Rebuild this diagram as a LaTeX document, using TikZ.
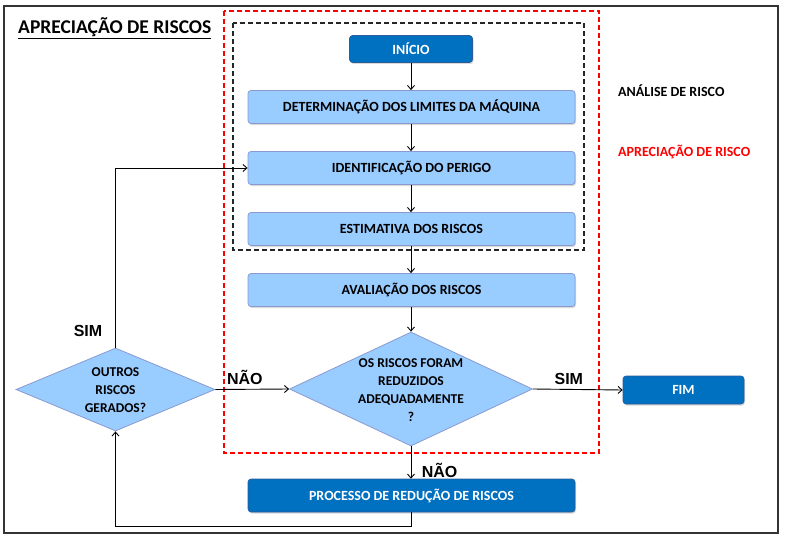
\documentclass[tikz,border=0pt]{standalone}
\usepackage{fontspec}
\setmainfont{Carlito}
\newfontfamily\lblfont{Liberation Sans}
\usetikzlibrary{shapes.geometric,arrows.meta,shadows}
\definecolor{darkb}{HTML}{0070C0}
\definecolor{lightb}{HTML}{99CCFF}
\definecolor{lbord}{HTML}{8A9AD0}
\definecolor{dbord}{HTML}{2E5C9A}
\begin{document}
\begin{tikzpicture}[x=1pt,y=-1pt,
  lbox/.style={draw=lbord, fill=lightb, rounded corners=3pt, line width=0.8pt,
     minimum width=327pt, minimum height=33pt, font=\bfseries\fontsize{14}{16}\selectfont,
     drop shadow={opacity=0.3, shadow xshift=1pt, shadow yshift=-1.5pt}},
  dbox/.style={draw=dbord, fill=darkb, rounded corners=3pt, line width=0.6pt, text=white,
     font=\bfseries\fontsize{14}{16}\selectfont,
     drop shadow={opacity=0.3, shadow xshift=1pt, shadow yshift=-1.5pt}},
  dia/.style={diamond, draw=lbord, fill=lightb, line width=0.8pt, inner sep=0pt},
  diatext/.style={align=center, inner sep=0pt, font=\bfseries\fontsize{13.5}{18}\selectfont},
  arr/.style={-{Straight Barb[length=4pt,width=7pt]}, line width=0.9pt},
  lbl/.style={font=\lblfont\bfseries\fontsize{16}{18}\selectfont}
]
\useasboundingbox (0,0) rectangle (790,543);
% outer frame
\draw[line width=1.2pt, black!80] (4,6) rectangle (778,533);
\node[anchor=west, inner sep=0pt, font=\bfseries\fontsize{19.5}{22}\selectfont] (title) at (18,28) {\underline{APRECIAÇÃO DE RISCOS}};
% dashed frames
\draw[red, dashed, dash pattern=on 5pt off 3pt, line width=1.2pt] (224,11) rectangle (599,453);
\draw[black!85, dashed, dash pattern=on 5pt off 3pt, line width=1.2pt] (233,23) rectangle (584,250);
% nodes
\node[dbox, minimum width=123pt, minimum height=27pt] (ini) at (411,49) {INÍCIO};
\node[lbox] (det) at (411.5,107) {DETERMINAÇÃO DOS LIMITES DA MÁQUINA};
\node[lbox] (ide) at (411.5,168) {IDENTIFICAÇÃO DO PERIGO};
\node[lbox] (est) at (411.5,229) {ESTIMATIVA DOS RISCOS};
\node[lbox] (ava) at (411.5,290) {AVALIAÇÃO DOS RISCOS};
\node[dia, minimum width=243pt, minimum height=114pt] (red) at (411,389) {};
\node[diatext] (redt) at (411,390) {OS RISCOS FORAM\\REDUZIDOS\\ADEQUADAMENTE\\?};
\node[dia, minimum width=199pt, minimum height=83pt] (out) at (115.5,389.5) {};
\node[diatext] (outt) at (115.5,390) {OUTROS\\RISCOS\\GERADOS?};
\node[dbox, minimum width=121pt, minimum height=28pt] (fim) at (683.5,390) {FIM};
\node[dbox, minimum width=327pt, minimum height=33pt] (pro) at (411.5,495.5) {PROCESSO DE REDUÇÃO DE RISCOS};
% side labels
\node[anchor=west, inner sep=0pt, font=\bfseries\fontsize{14}{16}\selectfont] (ana) at (618,91) {ANÁLISE DE RISCO};
\node[anchor=west, inner sep=0pt, text=red, font=\bfseries\fontsize{14}{16}\selectfont] (apr) at (618,152) {APRECIAÇÃO DE RISCO};
% connectors
\draw[arr] (ini.south) -- (ini.south |- det.north);
\draw[arr] (det.south -| ini.south) -- (ini.south |- ide.north);
\draw[arr] (ide.south -| ini.south) -- (ini.south |- est.north);
\draw[arr] (est.south -| ini.south) -- (ini.south |- ava.north);
\draw[arr] (ava.south -| ini.south) -- (red.north);
\draw[arr] (red.east) -- (fim.west) node[lbl, pos=0.4, above=1pt] {SIM};
\draw[arr] (red.south) -- (red.south |- pro.north) node[lbl, pos=0.75, anchor=west, xshift=7pt] {NÃO};
\draw[arr] (out.east) -- (red.west) node[lbl, pos=0.4, above=1pt] {NÃO};
\coordinate (c1) at (115.5,168);
\draw[arr] (out.north) -- (c1) -- (ide.west);
\node[lbl] (simL) at (88,331) {SIM};
\coordinate (c2) at (411,526);
\coordinate (c3) at (115.5,526);
\draw[arr] (pro.south -| c2) -- (c2) -- (c3) -- (out.south);
\end{tikzpicture}
\end{document}
